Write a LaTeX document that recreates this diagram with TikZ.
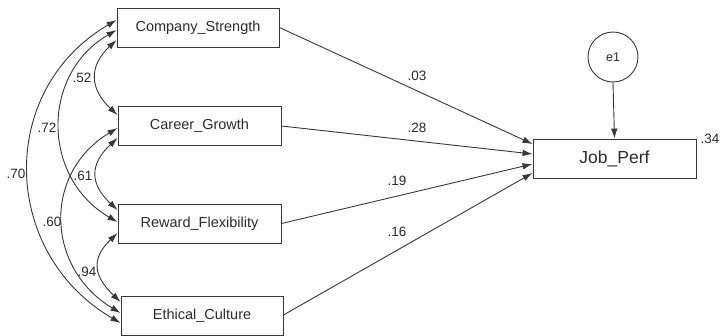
\documentclass[tikz,border=0pt]{standalone}
\usepackage{fontspec}
\setmainfont{Liberation Sans}
\usetikzlibrary{arrows.meta}
\definecolor{ln}{HTML}{383838}
\definecolor{tx}{HTML}{2C2C2C}
\tikzset{
  var/.style={draw=ln, line width=0.9pt, minimum width=163pt, minimum height=39pt, inner sep=0pt, text=tx, font=\fontsize{14.5}{16}\selectfont},
  dep/.style={var, font=\fontsize{17.5}{19}\selectfont},
  err/.style={draw=ln, line width=0.9pt, circle, minimum size=50pt, inner sep=0pt, text=tx, font=\fontsize{12.5}{14}\selectfont},
  lab/.style={text=tx, inner sep=0pt, font=\fontsize{13.5}{15}\selectfont},
  reg/.style={draw=ln, line width=0.9pt, -{Latex[length=10pt,width=6.5pt]}},
  cov/.style={draw=ln, line width=0.9pt, {Latex[length=10pt,width=6.5pt]}-{Latex[length=10pt,width=6.5pt]}}
}
\begin{document}
\begin{tikzpicture}[x=1pt,y=-1pt]
\useasboundingbox (0,0) rectangle (720,335);
\clip (0,0) rectangle (720,335);
\fill[white] (0,0) rectangle (720,335);
% variables
\node[var, minimum width=162pt] (cs) at (198,27.5) {Company\_Strength};
\node[var] (cg) at (199.5,126) {Career\_Growth};
\node[var] (rf) at (199.5,223.5) {Reward\_Flexibility};
\node[var, minimum width=162pt] (ec) at (202,316) {Ethical\_Culture};
\node[dep] (jp) at (614.5,158.5) {Job\_Perf};
\node[err] (e1) at (613,57) {e1};
% regressions
\draw[reg] (cs.east) -- ([yshift=14.5pt]jp.west);
\draw[reg] (cg.east) -- ([yshift=4.5pt]jp.west);
\draw[reg] (rf.east) -- ([yshift=-5.5pt]jp.west);
\draw[reg] ([yshift=1pt]ec.east) -- ([yshift=-14.5pt]jp.west);
\draw[reg] (e1.south) -- (jp.north);
% covariances
\draw[cov] ([yshift=7.5pt]cs.west) .. controls +(-120,70) and +(-120,-70) .. ([yshift=-7pt]ec.west);
\draw[cov] ([yshift=-2.5pt]cs.west) .. controls +(-76,44) and +(-76,-44) .. ([yshift=1.5pt]rf.west);
\draw[cov] ([yshift=-12.5pt]cs.west) .. controls +(-28,26) and +(-28,-26) .. ([yshift=11pt]cg.west);
\draw[cov] ([yshift=-2pt]cg.west) .. controls +(-75,45) and +(-75,-45) .. ([yshift=3pt]ec.west);
\draw[cov] ([yshift=-12pt]cg.west) .. controls +(-28,26) and +(-28,-26) .. ([yshift=13.5pt]rf.west);
\draw[cov] ([yshift=-9.5pt]rf.west) .. controls +(-27,26) and +(-27,-26) .. ([yshift=14pt]ec.west);
% labels
\node[lab] (l70) at (16,174) {.70};
\node[lab] (l72) at (47,128) {.72};
\node[lab] (l52) at (82,78) {.52};
\node[lab] (l61) at (83,176) {.61};
\node[lab] (l60) at (52,222) {.60};
\node[lab] (l94) at (87,272) {.94};
\node[lab] (l03) at (417,76) {.03};
\node[lab] (l28) at (417,128) {.28};
\node[lab] (l19) at (397,181) {.19};
\node[lab] (l16) at (397,232) {.16};
\node[lab] (l34) at (710,139) {.34};
\end{tikzpicture}
\end{document}
